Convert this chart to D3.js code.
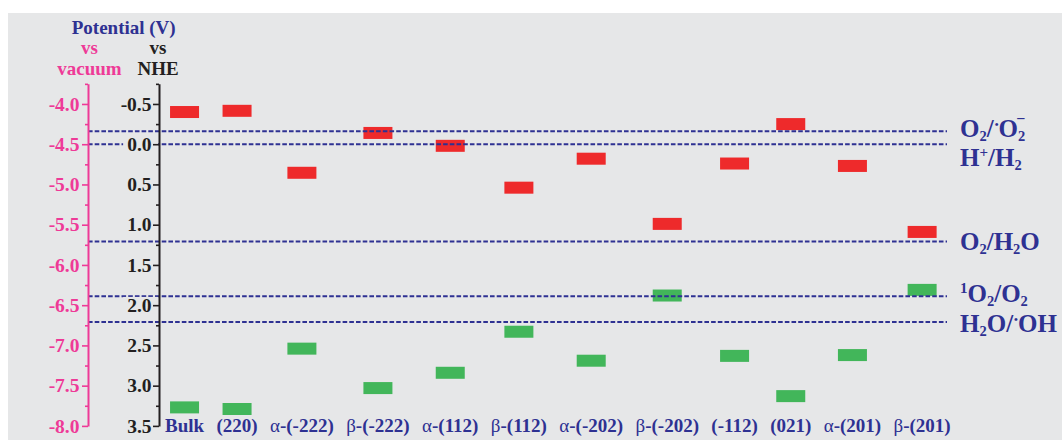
<!DOCTYPE html>
<html>
<head>
<meta charset="utf-8">
<script src="https://cdn.jsdelivr.net/npm/d3@7"></script>
<style>
  html, body { margin: 0; padding: 0; background: #ffffff; }
  svg { display: block; }
  text { font-family: "Liberation Serif", "Times New Roman", serif; font-weight: bold; }
</style>
</head>
<body>
<script>
// Facets and their band-edge potentials (V vs NHE)
const facets = ["Bulk", "(220)", "α-(-222)", "β-(-222)", "α-(112)", "β-(112)",
                "α-(-202)", "β-(-202)", "(-112)", "(021)", "α-(201)", "β-(201)"];
const conductionBand = [-0.40, -0.415, 0.355, -0.14, 0.02, 0.54, 0.18, 0.99, 0.24, -0.25, 0.27, 1.09];
const valenceBand    = [3.27, 3.29, 2.54, 3.03, 2.84, 2.33, 2.69, 1.88, 2.63, 3.13, 2.62, 1.81];

// Redox couples (V vs NHE)
const redoxNames = ["O2/•O2-", "H+/H2", "O2/H2O", "1O2/O2", "H2O/•OH"];
const redoxLevels = [-0.16, 0.0, 1.21, 1.89, 2.21];

// Axis ticks
const nheTicks = [-0.5, 0.0, 0.5, 1.0, 1.5, 2.0, 2.5, 3.0, 3.5];
const vacuumTicks = [-4.0, -4.5, -5.0, -5.5, -6.0, -6.5, -7.0, -7.5, -8.0];
const nheDomain = [-0.75, 3.5];
const vacuumOffset = -4.5; // E(vacuum) = -4.5 - E(NHE)

const W = 1062, H = 440;
const NAVY = "#2e3192", PINK = "#ee3a97", RED = "#ee2a2b", GREEN = "#42b65a", BG = "#e6e7e8";

const svg = d3.select("body").append("svg").attr("width", W).attr("height", H);

svg.append("rect").attr("x", 8).attr("y", 13).attr("width", W - 8).attr("height", H - 13).attr("fill", BG);

const yTop = 83.85, yBottom = 425.9;
const y = d3.scaleLinear().domain(nheDomain).range([yTop, yBottom]);
const yVac = d3.scaleLinear().domain(nheDomain.map(v => vacuumOffset - v)).range([yTop, yBottom]);

const xVac = 88, xNhe = 159, xLineEnd = 947, labelStart = 165, labelEnd = 950.7;

// ---- facet labels laid out side by side along the bottom ----
const gLabels = svg.append("g");
const catLabels = gLabels.selectAll("text").data(facets).join("text")
  .attr("y", yBottom + 6)
  .attr("font-size", 19)
  .attr("fill", NAVY);
catLabels.each(function(d) {
  const t = d3.select(this);
  const m = d.match(/^([αβ])(.*)$/);
  if (m) {
    t.append("tspan").attr("font-weight", "normal").text(m[1]);
    t.append("tspan").text(m[2]);
  } else {
    t.append("tspan").text(d);
  }
});
const widths = [];
catLabels.each(function() { widths.push(this.getComputedTextLength()); });
const gap = (labelEnd - labelStart - d3.sum(widths)) / (facets.length - 1);
const centers = [];
let cursor = labelStart;
widths.forEach(w => { centers.push(cursor + w / 2); cursor += w + gap; });
catLabels.attr("x", (d, i) => centers[i]).attr("text-anchor", "middle");

const x = d3.scaleOrdinal().domain(facets).range(centers);

// ---- band edge bars ----
const barW = 29, barH = 12;
const gBars = svg.append("g");
gBars.selectAll("rect.cb").data(facets).join("rect").attr("class", "cb")
  .attr("x", d => x(d) - barW / 2)
  .attr("y", (d, i) => y(conductionBand[i]) - barH / 2)
  .attr("width", barW).attr("height", barH).attr("fill", RED);
gBars.selectAll("rect.vb").data(facets).join("rect").attr("class", "vb")
  .attr("x", d => x(d) - barW / 2)
  .attr("y", (d, i) => y(valenceBand[i]) - barH / 2)
  .attr("width", barW).attr("height", barH).attr("fill", GREEN);

// ---- redox reference lines ----
const gRef = svg.append("g");
gRef.selectAll("line").data(redoxLevels).join("line")
  .attr("x1", xVac).attr("x2", xLineEnd)
  .attr("y1", d => y(d)).attr("y2", d => y(d))
  .attr("stroke", NAVY).attr("stroke-width", 2)
  .attr("stroke-dasharray", "4.6,2.1");

// ---- axes ----
function minorValues(domain) {
  const lo = Math.min(...domain), hi = Math.max(...domain);
  return d3.range(Math.round(lo * 4), Math.round(hi * 4) + 1).map(v => v / 4);
}

function drawAxis(scale, xPos, majors, color, padding, withBackdrop) {
  const g = svg.append("g").attr("transform", `translate(${xPos},0)`);
  const minors = minorValues(scale.domain()).filter(v => !majors.some(m => Math.abs(m - v) < 1e-9));
  g.call(d3.axisLeft(scale).tickValues(minors).tickSize(3).tickSizeOuter(0).tickFormat(""));
  g.call(gg => gg.select(".domain").remove());
  const gm = svg.append("g").attr("transform", `translate(${xPos},0)`);
  gm.call(d3.axisLeft(scale).tickValues(majors).tickSize(6).tickSizeOuter(0)
      .tickPadding(padding).tickFormat(d => d.toFixed(1)));
  [g, gm].forEach(a => {
    a.selectAll("line").attr("stroke", color).attr("stroke-width", 1.6);
    a.selectAll(".domain").attr("stroke", color).attr("stroke-width", 2);
    a.selectAll("text").attr("fill", color).attr("font-size", 19.5)
      .attr("font-family", "Liberation Serif, Times New Roman, serif").attr("font-weight", "bold");
  });
  if (withBackdrop) {
    gm.selectAll(".tick").each(function() {
      const tick = d3.select(this);
      const bb = tick.select("text").node().getBBox();
      tick.insert("rect", ":first-child")
        .attr("x", bb.x - 4).attr("y", bb.y + 2)
        .attr("width", -bb.x + 4 - 1).attr("height", bb.height - 4)
        .attr("fill", BG);
    });
  }
  return gm;
}

drawAxis(yVac, xVac, vacuumTicks, PINK, 2.5, false);
drawAxis(y, xNhe, nheTicks, "#231f20", 1.5, true);

// ---- titles ----
const titles = svg.append("g").attr("font-size", 19).attr("text-anchor", "middle");
titles.append("text").attr("x", 123.7).attr("y", 34).attr("fill", NAVY).text("Potential (V)");
titles.append("text").attr("x", xVac + 1.5).attr("y", 53.5).attr("fill", PINK).text("vs");
titles.append("text").attr("x", xVac + 1.5).attr("y", 74.7).attr("fill", PINK).text("vacuum");
titles.append("text").attr("x", xNhe - 1).attr("y", 53.5).attr("fill", "#231f20").text("vs");
titles.append("text").attr("x", xNhe - 1).attr("y", 74.7).attr("fill", "#231f20").text("NHE");

// ---- redox couple labels with sub/superscripts ----
const redoxParts = {
  "O2/•O2-": [["O"], ["2", "sub"], ["/"], ["•", "dot"], ["O"], ["2", "sub"], ["\u2212", "over"]],
  "H+/H2":   [["H"], ["+", "sup"], ["/"], ["H"], ["2", "sub"]],
  "O2/H2O":  [["O"], ["2", "sub"], ["/"], ["H"], ["2", "sub"], ["O"]],
  "1O2/O2":  [["1", "sup"], ["O"], ["2", "sub"], ["/"], ["O"], ["2", "sub"]],
  "H2O/•OH": [["H"], ["2", "sub"], ["O"], ["/"], ["•", "dot"], ["O"], ["H"]]
};
// small vertical nudges keep neighbouring labels apart
const labelNudge = { "O2/•O2-": -2.5, "H+/H2": 14, "1O2/O2": -2, "H2O/•OH": 2 };

const gRedox = svg.append("g").attr("fill", NAVY).attr("font-size", 25);
redoxNames.forEach((name, i) => {
  const t = gRedox.append("text").attr("x", 960)
    .attr("y", y(redoxLevels[i]) + 8 + (labelNudge[name] || 0));
  let shift = 0;
  redoxParts[name].forEach(([s, kind]) => {
    let target = 0, size = null, dx = 0;
    if (kind === "sub") { target = 4; size = 14.5; }
    else if (kind === "sup") { target = -9; size = 15; }
    else if (kind === "dot") { target = -9; size = 11; dx = 1; }
    else if (kind === "over") { target = -13; size = 16; dx = -9; }
    const ts = t.append("tspan").attr("dy", target - shift).text(s);
    if (dx) ts.attr("dx", dx);
    if (size) ts.attr("font-size", size);
    shift = target;
  });
});
</script>
</body>
</html>
